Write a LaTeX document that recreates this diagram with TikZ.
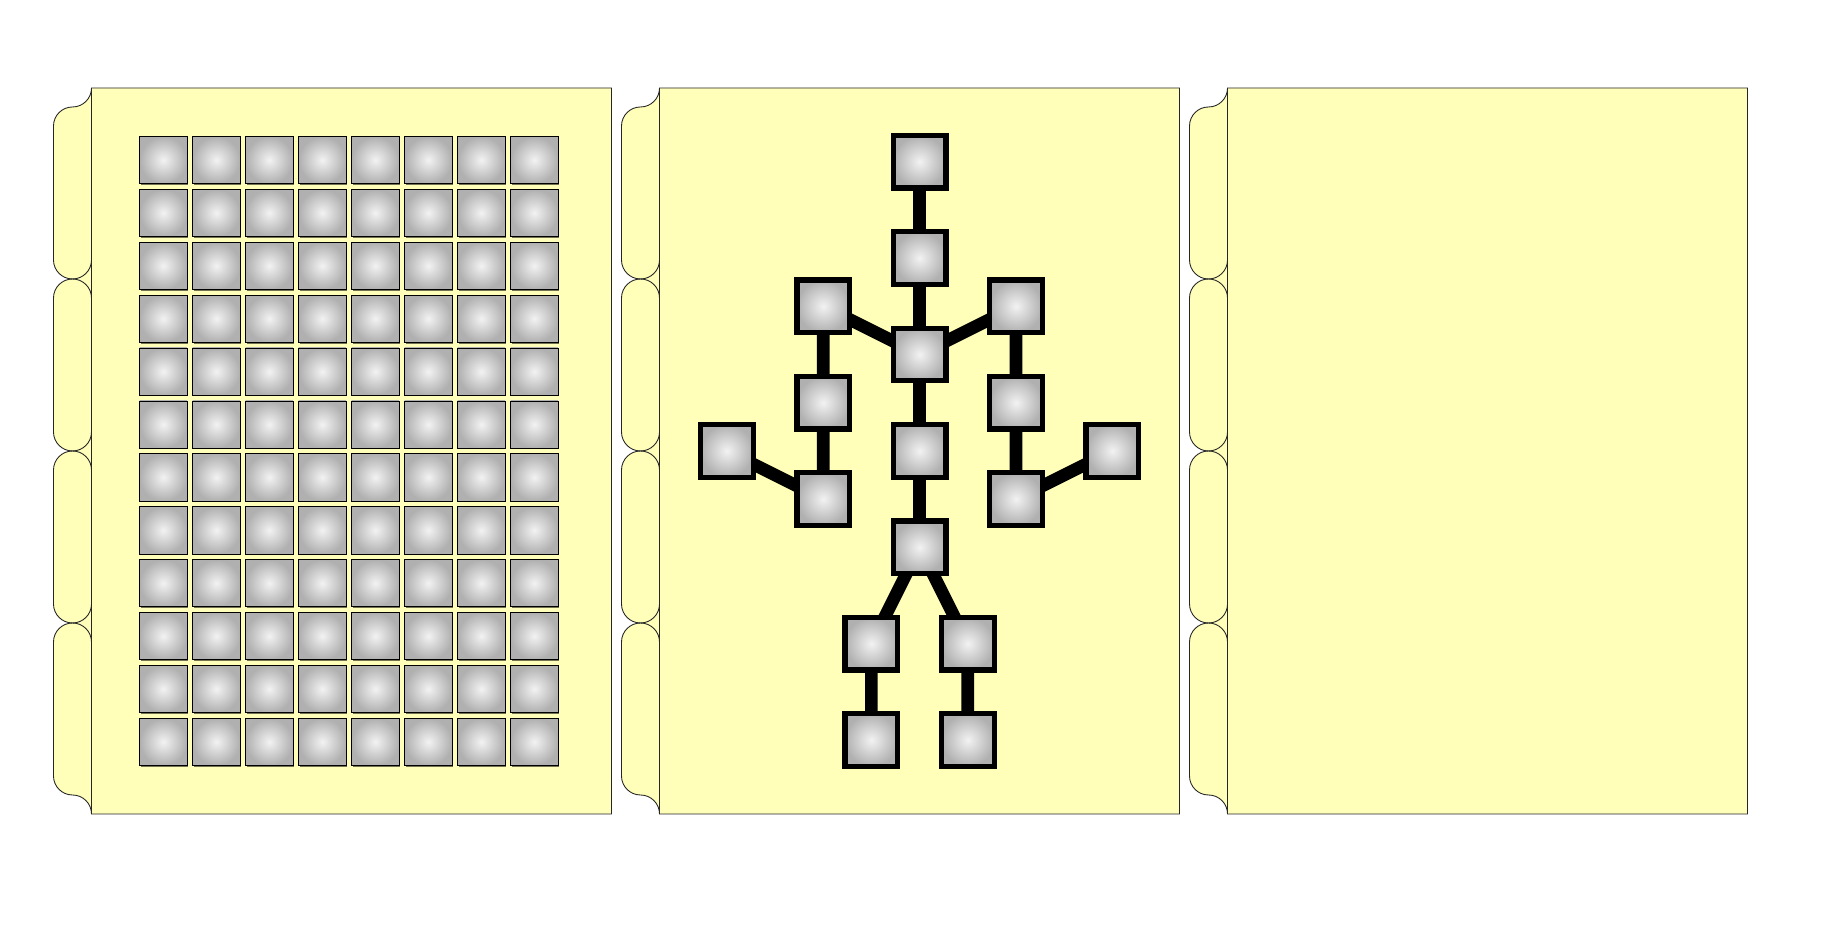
\documentclass[tikz,border=0pt]{standalone}
\usetikzlibrary{backgrounds,shadows}
\definecolor{sheetyellow}{RGB}{255,255,185}

\begin{document}
\begin{tikzpicture}[
  x=0.02cm, y=0.02cm,
  sheet/.style={draw=black!85, line width=0.5pt, fill=sheetyellow},
  crease/.style={draw=black!85, line width=0.5pt},
  cell/.style={draw=black, line width=0.4pt, inner sep=0pt, outer sep=0pt,
    minimum size=0.945cm, inner color=black!5, outer color=black!31,
    drop shadow={shadow xshift=0.7pt, shadow yshift=-0.7pt, fill=black, opacity=0.55}},
  joint/.style={cell, line width=3pt, minimum size=1.054cm},
  bone/.style={line width=7.2pt}
]
  \useasboundingbox (0,0) rectangle (1844,928);

  % Three tabbed sheets
  \begin{scope}[on background layer]
    \foreach \L in {91.5,659.5,1227.5}{
      \draw[sheet] (\L,840) -- ++(520,0) -- ++(0,-726) -- (\L,114)
        arc[start angle=0, end angle=90, radius=19]
        arc[start angle=-90, end angle=-180, radius=19] -- ++(0,134)
        arc[start angle=180, end angle=90, radius=19]
        arc[start angle=-90, end angle=-180, radius=19] -- ++(0,134)
        arc[start angle=180, end angle=90, radius=19]
        arc[start angle=-90, end angle=-180, radius=19] -- ++(0,134)
        arc[start angle=180, end angle=90, radius=19]
        arc[start angle=-90, end angle=-180, radius=19] -- ++(0,134)
        arc[start angle=180, end angle=90, radius=19]
        arc[start angle=-90, end angle=0, radius=19] -- cycle;
      \draw[crease] (\L,840) -- (\L,114);
      \foreach \y in {305,477,649}
        \draw[crease] ({\L},{\y+19})
          arc[start angle=0, end angle=-90, radius=19]
          arc[start angle=90, end angle=0, radius=19];
    }
  \end{scope}

  % Left sheet: 8 x 12 grid
  \foreach \col in {0,...,7}
    \foreach \row in {0,...,11}
      \node[cell] (c-\col-\row) at ({163.3+53*\col},{768-52.9*\row}) {};

  % Middle sheet: stick figure
  \node[joint] (head)      at (919.6,766.3) {};
  \node[joint] (neck)      at (919.6,669.9) {};
  \node[joint] (chest)     at (919.6,573.5) {};
  \node[joint] (belly)     at (919.6,477.1) {};
  \node[joint] (hip)       at (919.6,380.7) {};
  \node[joint] (lshoulder) at (823.2,621.7) {};
  \node[joint] (lelbow)    at (823.2,525.3) {};
  \node[joint] (lwrist)    at (823.2,428.9) {};
  \node[joint] (lhand)     at (726.8,477.1) {};
  \node[joint] (rshoulder) at (1016.0,621.7) {};
  \node[joint] (relbow)    at (1016.0,525.3) {};
  \node[joint] (rwrist)    at (1016.0,428.9) {};
  \node[joint] (rhand)     at (1112.4,477.1) {};
  \node[joint] (lknee)     at (871.4,284.3) {};
  \node[joint] (lfoot)     at (871.4,187.9) {};
  \node[joint] (rknee)     at (967.8,284.3) {};
  \node[joint] (rfoot)     at (967.8,187.9) {};

  \begin{scope}[on background layer]
    \draw[bone] (head.center) -- (neck.center) -- (chest.center)
      -- (belly.center) -- (hip.center);
    \draw[bone] (chest.center) -- (lshoulder.center) -- (lelbow.center)
      -- (lwrist.center) -- (lhand.center);
    \draw[bone] (chest.center) -- (rshoulder.center) -- (relbow.center)
      -- (rwrist.center) -- (rhand.center);
    \draw[bone] (hip.center) -- (lknee.center) -- (lfoot.center);
    \draw[bone] (hip.center) -- (rknee.center) -- (rfoot.center);
  \end{scope}
\end{tikzpicture}
\end{document}
